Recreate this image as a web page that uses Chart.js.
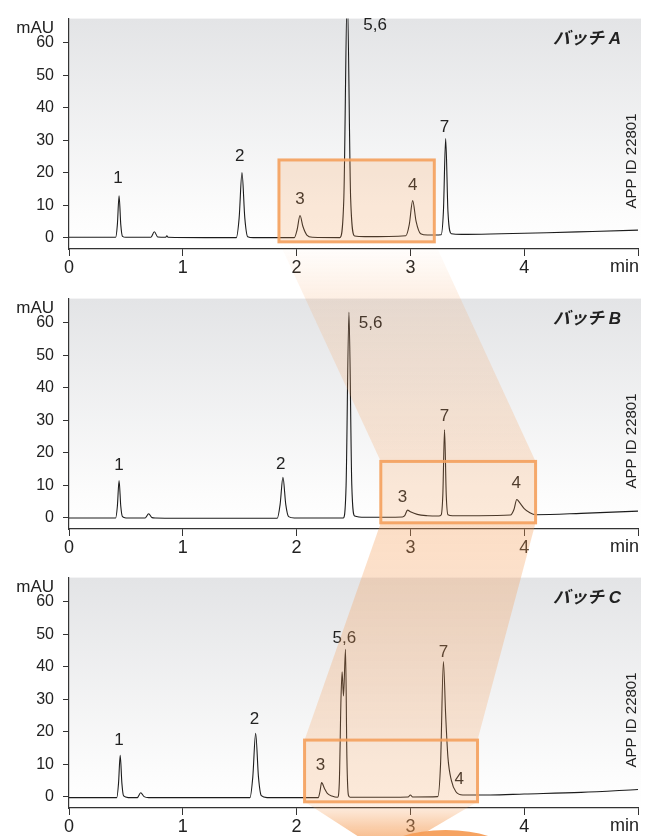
<!DOCTYPE html>
<html>
<head>
<meta charset="utf-8">
<script src="https://cdn.jsdelivr.net/npm/chart.js@4.4.1/dist/chart.umd.min.js"></script>
<style>
  body { margin: 0; background: #fff; width: 649px; height: 836px; overflow: hidden; position: relative; }
  canvas { position: absolute; left: 0; }
</style>
</head>
<body>
<canvas id="chartA" width="649" height="280" style="top:0px"></canvas>
<canvas id="chartB" width="649" height="280" style="top:280px"></canvas>
<canvas id="chartC" width="649" height="280" style="top:559px"></canvas>
<canvas id="overlay" width="649" height="836" style="top:0px;pointer-events:none"></canvas>
<script>
// axes
var xTicks = [0, 1, 2, 3, 4, 5];
var xTickLabels = ["0", "1", "2", "3", "4", "min"];
var yTicks = [0, 10, 20, 30, 40, 50, 60];

// Batch A trace (min, mAU)
var timeA = [0, 0.3, 0.41, 0.425, 0.44, 0.455, 0.47, 0.5, 0.72, 0.75, 0.78, 0.85, 0.86, 0.87, 1.2,
  1.47, 1.495, 1.52, 1.545, 1.57, 1.62, 1.98, 2.005, 2.03, 2.055, 2.09, 2.14,
  2.38, 2.415, 2.445, 2.475, 2.51, 2.6, 2.96, 2.99, 3.02, 3.05, 3.09, 3.15,
  3.27, 3.29, 3.31, 3.33, 3.36, 3.45, 3.8, 4.2, 4.6, 5.0];
var mauA = [0.1, 0.1, 0.1, 4, 12.9, 4, 0.4, 0.1, 0.1, 1.8, 0.2, 0.1, 0.6, 0.1, 0,
  0, 6, 20, 6, 0.3, 0, 0, 2.5, 6.8, 3.5, 0.8, 0.1,
  0, 12, 75, 12, 0.5, 0.3, 0.6, 4, 11.4, 5, 1.2, 0.8,
  0.9, 8, 30.5, 8, 1.2, 1.0, 1.2, 1.5, 1.9, 2.3];
var peakTextA = ["1", "2", "3", "5,6", "4", "7"];
var peakTimeA = [0.43, 1.50, 2.03, 2.69, 3.02, 3.30];
var peakMauA = [18.2, 24.9, 11.7, 65.3, 16.0, 33.9];

// Batch B trace
var timeB = [0, 0.3, 0.41, 0.425, 0.44, 0.455, 0.47, 0.5, 0.67, 0.70, 0.73, 0.76, 1.2,
  1.83, 1.855, 1.88, 1.905, 1.93, 1.98, 2.41, 2.435, 2.46, 2.485, 2.51, 2.6,
  2.93, 2.95, 2.975, 3.0, 3.06, 3.15, 3.25, 3.27, 3.285, 3.30, 3.315, 3.33, 3.37, 3.6,
  3.88, 3.91, 3.935, 3.96, 4.0, 4.05, 4.1, 4.5, 5.0];
var mauB = [-0.1, -0.1, -0.1, 3.5, 11.4, 3.5, 0.3, -0.1, -0.1, 1.2, 0, -0.1, -0.2,
  -0.2, 4, 12.4, 4, 0.3, -0.1, -0.1, 10, 63.2, 10, 0.5, 0.1,
  0.2, 0.6, 2.3, 1.8, 1.0, 0.6, 0.5, 0.8, 7, 27, 7, 0.9, 0.6, 0.6,
  0.8, 2.5, 5.6, 4.6, 2.8, 1.5, 0.9, 1.3, 2.0];
var peakTextB = ["1", "2", "5,6", "3", "7", "4"];
var peakTimeB = [0.44, 1.86, 2.65, 2.93, 3.30, 3.93];
var peakMauB = [16.0, 16.5, 59.8, 6.3, 31.2, 10.5];

// Batch C trace
var timeC = [0, 0.3, 0.42, 0.435, 0.45, 0.465, 0.48, 0.52, 0.60, 0.63, 0.66, 0.7, 1.2,
  1.59, 1.615, 1.64, 1.665, 1.69, 1.74, 2.19, 2.205, 2.22, 2.245, 2.27, 2.31,
  2.36, 2.375, 2.39, 2.40, 2.412, 2.43, 2.442, 2.455, 2.47, 2.6, 2.98, 3.0, 3.02,
  3.24, 3.265, 3.29, 3.31, 3.33, 3.36, 3.40, 3.46, 3.7, 4.0, 4.5, 5.0];
var mauC = [-0.3, -0.3, -0.3, 4, 12.7, 4, 0.2, -0.3, -0.3, 1.2, 0, -0.3, -0.3,
  -0.3, 6, 19.5, 6, 0.3, -0.3, -0.3, 1.5, 4.3, 2.5, 1.0, 0.2,
  -0.2, 4, 30, 38.4, 31, 45.3, 12, 0.5, -0.2, -0.2, -0.1, 0.5, -0.1,
  0, 10, 41.6, 25, 12, 5, 1.5, 0.5, 0.5, 0.8, 1.3, 2.2];
var peakTextC = ["1", "2", "3", "5,6", "7", "4"];
var peakTimeC = [0.44, 1.63, 2.21, 2.42, 3.29, 3.43];
var peakMauC = [17.2, 23.7, 9.7, 48.7, 44.5, 5.4];

// highlighted windows (min / mAU)
var boxA = { t0: 1.845, t1: 3.21, v0: -1.3, v1: 23.9 };
var boxB = { t0: 2.74, t1: 4.10, v0: -1.6, v1: 17.3 };
var boxC = { t0: 2.07, t1: 3.59, v0: -1.6, v1: 17.4 };

var FONT = "'Liberation Sans', Arial, Helvetica, sans-serif";
var INK = "#222";

var panelPlugin = {
  id: "panel",
  beforeDraw: function (chart) {
    var a = chart.chartArea, ctx = chart.ctx;
    var g = ctx.createLinearGradient(0, a.top, 0, a.bottom);
    g.addColorStop(0, "#e3e4e6");
    g.addColorStop(0.85, "#fcfcfc");
    g.addColorStop(1, "#ffffff");
    ctx.save();
    ctx.fillStyle = g;
    ctx.fillRect(a.left, a.top, a.right - a.left + 3, a.bottom - a.top);
    ctx.restore();
  },
  afterDraw: function (chart, args, opts) {
    var a = chart.chartArea, ctx = chart.ctx;
    var xs = chart.scales.x, ys = chart.scales.y;
    ctx.save();
    ctx.fillStyle = INK;
    // peak numbers
    ctx.font = "17px " + FONT;
    ctx.textAlign = "center";
    ctx.textBaseline = "middle";
    opts.texts.forEach(function (t, i) {
      ctx.fillText(t, xs.getPixelForValue(opts.times[i]), ys.getPixelForValue(opts.values[i]));
    });
    // unit labels
    ctx.textAlign = "right";
    ctx.fillText("mAU", a.left - 15, a.top + 10);
    ctx.font = "18px " + FONT;
    ctx.textBaseline = "top";
    ctx.fillText(xTickLabels[5], xs.getPixelForValue(xTicks[5]) + 1, xs.top + 9);
    // batch name
    ctx.textBaseline = "middle";
    ctx.font = "italic bold 17px " + FONT + ", 'Noto Sans CJK JP'";
    ctx.fillText(opts.title, a.right - 17, a.top + 21);
    // app id
    ctx.font = "15px " + FONT;
    ctx.translate(a.right - 6, a.bottom - 88);
    ctx.rotate(-Math.PI / 2);
    ctx.textAlign = "center";
    ctx.fillText("APP ID 22801", 0, 0);
    ctx.restore();
  }
};

function makeChart(id, times, values, title, texts, tTimes, tValues) {
  return new Chart(id, {
    type: "line",
    data: {
      datasets: [{
        data: times.map(function (t, i) { return { x: t, y: values[i] }; }),
        borderColor: "#1c1c1c",
        borderWidth: 1.1,
        pointRadius: 0,
        cubicInterpolationMode: "monotone"
      }]
    },
    options: {
      responsive: false,
      animation: false,
      layout: { padding: { top: 8, right: 11, left: 0, bottom: 0 } },
      plugins: {
        legend: { display: false },
        tooltip: { enabled: false },
        panel: { title: title, texts: texts, times: tTimes, values: tValues }
      },
      scales: {
        x: {
          type: "linear", min: 0, max: 5,
          afterBuildTicks: function (s) { s.ticks = xTicks.map(function (v) { return { value: v }; }); },
          afterFit: function (s) { s.height = 31; },
          ticks: {
            autoSkip: false, maxRotation: 0, padding: 1, color: INK,
            font: { family: FONT, size: 18 },
            callback: function (v, i) { return i === 5 ? "" : xTickLabels[i]; }
          },
          grid: { drawOnChartArea: false, tickLength: 7, color: "#333", lineWidth: 1 },
          border: { color: "#333", width: 1.2 }
        },
        y: {
          min: -3.5, max: 67.4,
          afterBuildTicks: function (s) { s.ticks = yTicks.map(function (v) { return { value: v }; }); },
          afterFit: function (s) { s.width = 69; },
          ticks: { padding: 9, color: INK, font: { family: FONT, size: 16 } },
          grid: { drawOnChartArea: false, tickLength: 6, color: "#333", lineWidth: 1 },
          border: { color: "#333", width: 1.2 }
        }
      }
    },
    plugins: [panelPlugin]
  });
}

var chartA = makeChart("chartA", timeA, mauA, "バッチ A", peakTextA, peakTimeA, peakMauA);
var chartB = makeChart("chartB", timeB, mauB, "バッチ B", peakTextB, peakTimeB, peakMauB);
var chartC = makeChart("chartC", timeC, mauC, "バッチ C", peakTextC, peakTimeC, peakMauC);

// zoom windows and connecting bands, placed from each chart's scales
function rect(chart, box, top) {
  var xs = chart.scales.x, ys = chart.scales.y;
  return {
    l: xs.getPixelForValue(box.t0), r: xs.getPixelForValue(box.t1),
    t: top + ys.getPixelForValue(box.v1), b: top + ys.getPixelForValue(box.v0)
  };
}
var ra = rect(chartA, boxA, 0);
var rb = rect(chartB, boxB, 280);
var rc = rect(chartC, boxC, 559);

var ctx = document.getElementById("overlay").getContext("2d");
var OR = "245,158,88";

function quad(p, fill) {
  ctx.beginPath();
  ctx.moveTo(p[0], p[1]); ctx.lineTo(p[2], p[3]); ctx.lineTo(p[4], p[5]); ctx.lineTo(p[6], p[7]);
  ctx.closePath();
  ctx.fillStyle = fill;
  ctx.fill();
}

var g1 = ctx.createLinearGradient(0, ra.b, 0, rb.t);
g1.addColorStop(0, "rgba(" + OR + ",0)");
g1.addColorStop(0.25, "rgba(" + OR + ",0.16)");
g1.addColorStop(1, "rgba(" + OR + ",0.24)");
quad([ra.l, ra.b, ra.r, ra.b, rb.r, rb.t, rb.l, rb.t], g1);

var g2 = ctx.createLinearGradient(0, rb.b, 0, rc.t);
g2.addColorStop(0, "rgba(" + OR + ",0.34)");
g2.addColorStop(1, "rgba(" + OR + ",0.24)");
quad([rb.l, rb.b, rb.r, rb.b, rc.r, rc.t, rc.l, rc.t], g2);

var endY = 840;
var g3 = ctx.createLinearGradient(0, rc.b, 0, endY);
g3.addColorStop(0, "rgba(" + OR + ",0.12)");
g3.addColorStop(1, "rgba(" + OR + ",0.7)");
quad([rc.l, rc.b, rc.r, rc.b, rc.r - 1.7 * (endY - rc.b), endY, rc.l + 1.55 * (endY - rc.b), endY], g3);

ctx.beginPath();
ctx.ellipse(rc.l + 141, endY + 12, 62, 22, 0, 0, Math.PI * 2);
ctx.fillStyle = "rgba(" + OR + ",0.95)";
ctx.fill();

[ra, rb, rc].forEach(function (r) {
  ctx.fillStyle = "rgba(" + OR + ",0.22)";
  ctx.fillRect(r.l, r.t, r.r - r.l, r.b - r.t);
  ctx.strokeStyle = "rgba(244,160,92,0.9)";
  ctx.lineWidth = 3;
  ctx.strokeRect(r.l, r.t, r.r - r.l, r.b - r.t);
});
</script>
</body>
</html>
